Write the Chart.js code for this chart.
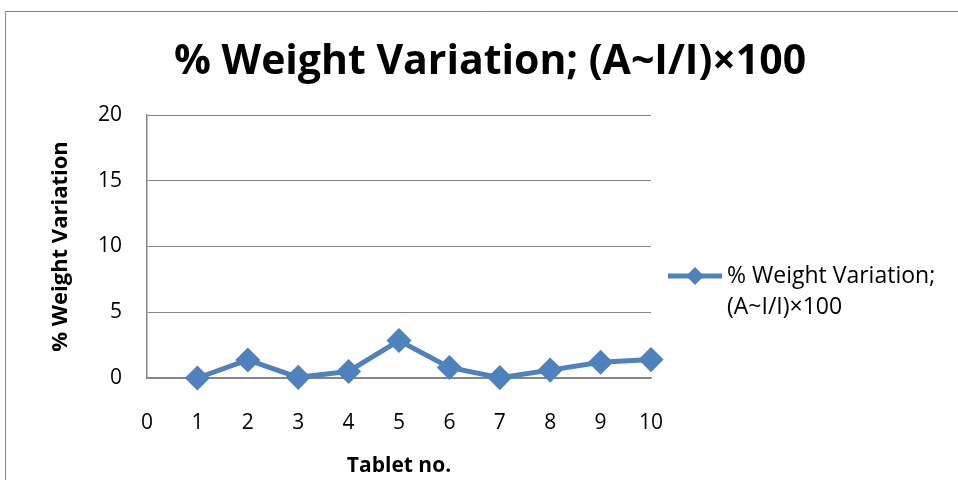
<!DOCTYPE html>
<html>
<head>
<meta charset="utf-8">
<script src="https://cdn.jsdelivr.net/npm/chart.js@4.4.1/dist/chart.umd.min.js"></script>
<style>
  html, body { margin: 0; padding: 0; background: #fff; }
  canvas { display: block; }
</style>
</head>
<body>
<canvas id="chart" width="958" height="480"></canvas>
<script>
let chartTitle = "% Weight Variation; (A~I/I)×100";
let seriesName = ["% Weight Variation;", "(A~I/I)×100"];
let tablets = [1, 2, 3, 4, 5, 6, 7, 8, 9, 10];
let weightVariation = [0.0, 1.37, 0.05, 0.5, 2.85, 0.8, 0.03, 0.6, 1.2, 1.4];
let yTicks = [0, 5, 10, 15, 20];
let xTicks = [0, 1, 2, 3, 4, 5, 6, 7, 8, 9, 10];

let blue = "#4F81BD";
let gray = "#868686";
let fontName = "'Open Sans', sans-serif";

let points = tablets.map(function(t, i){
  return { x: t, y: weightVariation[i] };
});

// frame, title and the two-line legend are drawn by hand
let extras = {
  id: "extras",
  beforeDraw: function(c){
    let ctx = c.ctx;
    ctx.save();
    ctx.strokeStyle = gray;
    ctx.lineWidth = 1;
    ctx.beginPath();
    ctx.moveTo(5.5, 490);
    ctx.lineTo(5.5, 11.5);
    ctx.lineTo(970, 11.5);
    ctx.stroke();
    ctx.restore();
  },
  afterDraw: function(c){
    let ctx = c.ctx;
    ctx.save();
    ctx.fillStyle = "#000";
    ctx.textAlign = "center";
    ctx.textBaseline = "middle";
    ctx.font = "bold 41px " + fontName;
    ctx.fillText(chartTitle, 490, 62);

    // legend
    let ly = 276;
    ctx.strokeStyle = blue;
    ctx.lineWidth = 5;
    ctx.beginPath();
    ctx.moveTo(668, ly);
    ctx.lineTo(722, ly);
    ctx.stroke();
    ctx.fillStyle = blue;
    ctx.beginPath();
    ctx.moveTo(695, ly - 9);
    ctx.lineTo(704, ly);
    ctx.lineTo(695, ly + 9);
    ctx.lineTo(686, ly);
    ctx.closePath();
    ctx.fill();

    ctx.fillStyle = "#000";
    ctx.textAlign = "left";
    ctx.font = "23px " + fontName;
    ctx.fillText(seriesName[0], 727, ly);
    ctx.fillText(seriesName[1], 727, ly + 31);
    ctx.restore();
  }
};

let chart = new Chart(document.getElementById("chart"), {
  type: "line",
  data: {
    datasets: [{
      label: seriesName.join(" "),
      data: points,
      borderColor: blue,
      backgroundColor: blue,
      borderWidth: 5,
      pointStyle: "rectRot",
      pointRadius: 9,
      pointHoverRadius: 9,
      pointBackgroundColor: blue,
      pointBorderColor: blue,
      tension: 0,
      clip: false
    }]
  },
  options: {
    responsive: false,
    animation: false,
    layout: {
      padding: { top: 115, right: 307, bottom: 0, left: 0 }
    },
    plugins: {
      legend: { display: false },
      title: { display: false },
      tooltip: { enabled: false }
    },
    scales: {
      x: {
        type: "linear",
        min: 0,
        max: 10,
        afterFit: function(s){ s.height = 102; },
        afterBuildTicks: function(s){
          s.ticks = xTicks.map(function(v){ return { value: v }; });
        },
        ticks: {
          color: "#000",
          padding: 32,
          font: { family: fontName, size: 21 }
        },
        grid: { color: "transparent", drawTicks: false },
        border: { color: gray, width: 1.5 },
        title: {
          display: true,
          text: "Tablet no.",
          color: "#000",
          font: { family: fontName, size: 21, weight: "bold" },
          padding: { top: 0, bottom: 1 }
        }
      },
      y: {
        min: 0,
        max: 20,
        afterFit: function(s){ s.width = 147; },
        afterBuildTicks: function(s){
          s.ticks = yTicks.map(function(v){ return { value: v }; });
        },
        ticks: {
          color: "#000",
          padding: 25,
          font: { family: fontName, size: 21 }
        },
        grid: { color: gray, lineWidth: 1, drawTicks: false },
        border: { color: gray, width: 1.5 },
        title: {
          display: true,
          text: "% Weight Variation",
          color: "#000",
          font: { family: fontName, size: 22, weight: "bold" },
          padding: { top: 48, bottom: 0 }
        }
      }
    }
  },
  plugins: [extras]
});
</script>
</body>
</html>
